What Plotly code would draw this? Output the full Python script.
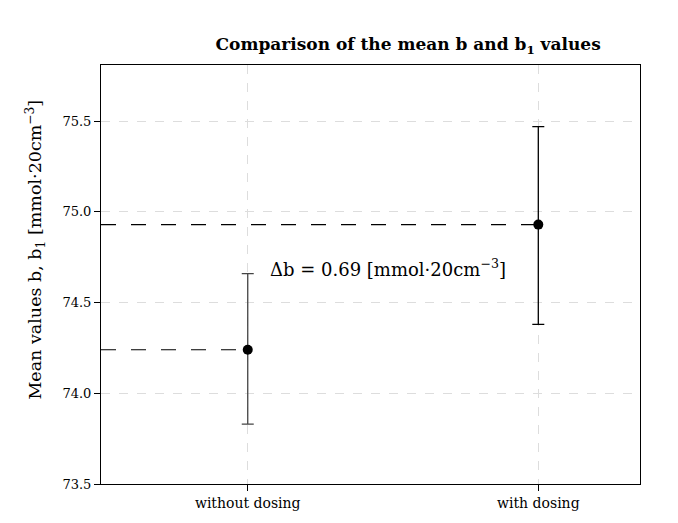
import plotly.graph_objects as go

categories = ["without dosing", "with dosing"]
means = [74.24, 74.93]
err_low = [73.83, 74.38]
err_high = [74.66, 75.47]
bar_colors = ["#444444", "#000000"]
delta_label = "Δb = 0.69 [mmol·20cm<sup>−3</sup>]"
y_title = "Mean values b, b<sub>1</sub> [mmol·20cm<sup>−3</sup>]"

x_pos = list(range(len(categories)))
x_min, x_max = -0.505, 1.35
font = "DejaVu Serif"

fig = go.Figure()
for i, (m, lo, hi) in enumerate(zip(means, err_low, err_high)):
    fig.add_trace(go.Scatter(
        x=[x_min, x_pos[i]], y=[m, m], mode="lines",
        line=dict(color="black", dash="longdash", width=1.2),
        showlegend=False, hoverinfo="skip"))
    fig.add_trace(go.Scatter(
        x=[x_pos[i]], y=[m], mode="markers",
        marker=dict(color="black", size=10),
        error_y=dict(type="data", symmetric=False,
                     array=[hi - m], arrayminus=[m - lo],
                     color=bar_colors[i], thickness=1.3, width=6),
        showlegend=False))

fig.add_annotation(x=0.07, y=74.69, xanchor="left", yanchor="middle",
                   text=delta_label, showarrow=False,
                   font=dict(family=font, size=18, color="black"))

fig.add_annotation(x=-0.122, y=0.56, xref="paper", yref="paper",
                   text=y_title, showarrow=False, textangle=-90,
                   xanchor="center", yanchor="middle",
                   font=dict(family=font, size=17.5, color="black"))

fig.update_layout(
    width=678, height=523,
    margin=dict(l=101, r=38, t=65, b=36),
    plot_bgcolor="white", paper_bgcolor="white",
    font=dict(family=font, color="black", size=14),
    title=dict(text="<b>Comparison of the mean b and b<sub>1</sub> values</b>",
               x=0.602, xanchor="center", y=0.915, yanchor="middle",
               font=dict(family=font, size=17, color="black")),
)
fig.update_xaxes(range=[x_min, x_max], tickmode="array", tickvals=x_pos,
                 ticktext=categories, showgrid=True, gridcolor="#dddddd",
                 griddash="dash", ticks="outside", ticklen=6, tickcolor="black",
                 showline=True, linecolor="black", mirror=True, zeroline=False,
                 tickfont=dict(size=14))
fig.update_yaxes(range=[73.5, 75.81], tickvals=[73.5, 74.0, 74.5, 75.0, 75.5],
                 ticktext=["73.5", "74.0", "74.5", "75.0", "75.5"],
                 showgrid=True, gridcolor="#dddddd", griddash="dash",
                 ticks="outside", ticklen=6, tickcolor="black",
                 showline=True, linecolor="black", mirror=True, zeroline=False,
                 tickfont=dict(size=13))

fig.write_html("out.html")
